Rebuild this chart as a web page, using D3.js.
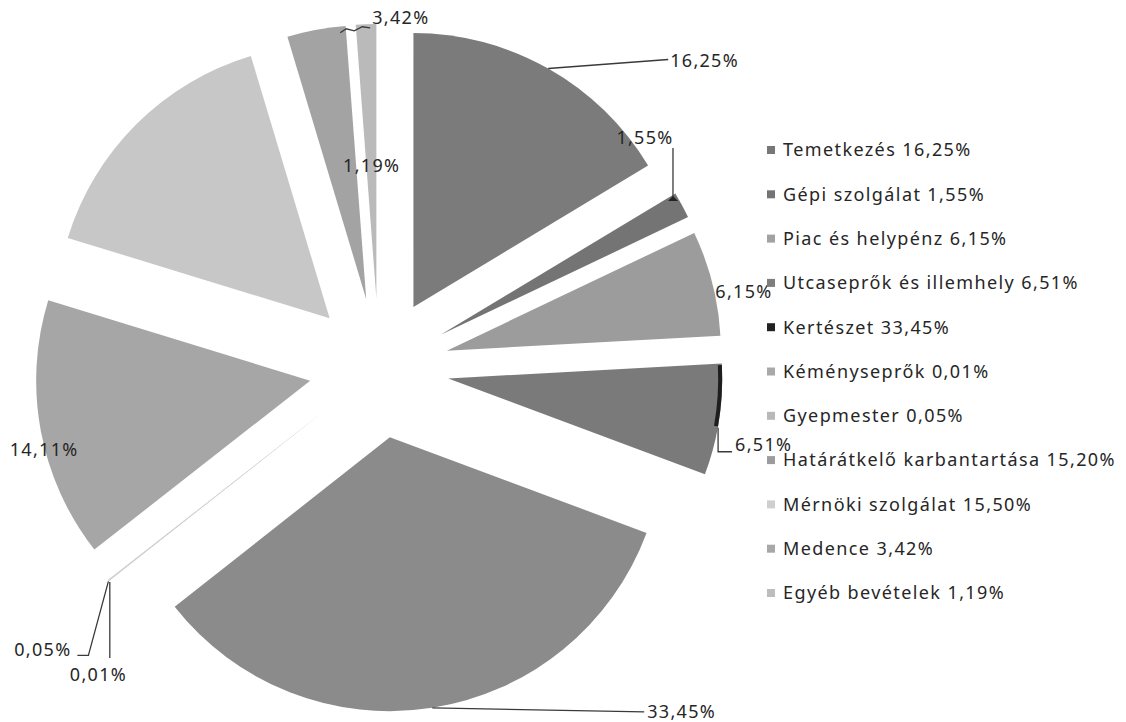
<!DOCTYPE html>
<html lang="hu">
  <head>
    <meta charset="utf-8">
    <title>Bevételek megoszlása</title>
    <script src="https://cdnjs.cloudflare.com/ajax/libs/d3/7.8.5/d3.min.js"></script>
    <style>
      body { margin: 0; background: #fff; }
      text { font-family: "Noto Sans", "DejaVu Sans", sans-serif; fill: #262626; }
      .lbl { font-size: 18px; letter-spacing: 1.3px; }
      .leg { font-size: 18px; letter-spacing: 1.4px; }
    </style>
  </head>
  <body>
    <div class="chart"></div>
    <script>
      // data
      var categories = ["Temetkezés", "Gépi szolgálat", "Piac és helypénz", "Utcaseprők és illemhely",
        "Kertészet", "Kéményseprők", "Gyepmester", "Határátkelő karbantartása",
        "Mérnöki szolgálat", "Medence", "Egyéb bevételek"];
      var values = [16.25, 1.55, 6.15, 6.51, 33.45, 0.01, 0.05, 15.20, 15.50, 3.42, 1.19];
      var labelTexts = ["16,25%", "1,55%", "6,15%", "6,51%", "33,45%", "0,01%", "0,05%", "14,11%", "", "3,42%", "1,19%"];

      // styles
      var sliceColors = ["#7b7b7b", "#747474", "#9c9c9c", "#7a7a7a", "#8b8b8b", "#b0b0b0",
        "#d8d8d8", "#a6a6a6", "#c7c7c7", "#a3a3a3", "#bababa"];
      var legendColors = ["#777777", "#747474", "#a2a2a2", "#7e7e7e", "#222222", "#a9a9a9",
        "#b9b9b9", "#9c9c9c", "#cfcfcf", "#a8a8a8", "#bdbdbd"];

      var svgWidth = 1126;
      var svgHeight = 722;
      var cx = 379, cy = 368;
      var radius = 274;
      var explode = 70;

      // label placement relative to the outer point of each slice
      var labelLayout = [
        { tx: 122, ty: -8, anchor: "start", leader: [[0, 0], [120, -9]] },
        { tx: -37, ty: -67, anchor: "middle", leader: [[-9, -4], [-9, -57]] },
        { tx: 3, ty: 9, anchor: "start", leader: null },
        { tx: 16, ty: 25, anchor: "start", leader: [[-1, 8], [-1, 32], [13, 32]] },
        { tx: 215, ty: 4, anchor: "start", leader: [[0, 0], [212, 4]] },
        { tx: -39, ty: 94, anchor: "start", leader: [[1, 1], [1, 77]] },
        { tx: -37, ty: 69, anchor: "end", leader: [[0, 1], [-20, 75], [-31, 75]] },
        { tx: -31, ty: 19, anchor: "start", leader: null },
        null,
        { tx: 56, ty: -12, anchor: "start", leader: [[24, 3], [30, -1], [38, 1], [46, -3], [54, -2]] },
        { tx: -23, ty: 141, anchor: "start", leader: null }
      ];

      var svg = d3.select(".chart")
        .append("svg")
        .attr("width", svgWidth)
        .attr("height", svgHeight);

      var pie = d3.pie().sort(null).value(d => d);
      var arcs = pie(values);

      var arc = d3.arc().innerRadius(0).outerRadius(radius);

      function dir(a) { return [Math.sin(a), -Math.cos(a)]; }

      var pieGroup = svg.append("g")
        .attr("transform", `translate(${cx}, ${cy})`);

      pieGroup.selectAll("path.slice")
        .data(arcs)
        .enter()
        .append("path")
        .attr("class", "slice")
        .attr("transform", d => {
          var m = (d.startAngle + d.endAngle) / 2;
          var v = dir(m);
          return `translate(${v[0] * explode}, ${v[1] * explode})`;
        })
        .attr("d", d => arc(d.value < 0.1 ? Object.assign({}, d, { endAngle: d.startAngle + 0.004 }) : d))
        .attr("fill", (d, i) => sliceColors[i]);

      // dark edge on the street-sweeping slice
      var u = arcs[3];
      var um = (u.startAngle + u.endAngle) / 2;
      pieGroup.append("path")
        .attr("transform", `translate(${dir(um)[0] * explode}, ${dir(um)[1] * explode})`)
        .attr("d", d3.arc().innerRadius(radius - 4).outerRadius(radius)
          .startAngle(u.startAngle + 0.006)
          .endAngle(u.startAngle + 0.56 * (u.endAngle - u.startAngle))())
        .attr("fill", "#1e1e1e");

      // labels
      var line = d3.line();
      arcs.forEach(function (d, i) {
        var lay = labelLayout[i];
        if (!lay || !labelTexts[i]) return;
        var m = (d.startAngle + d.endAngle) / 2;
        var v = dir(m);
        var ax = v[0] * (radius + explode);
        var ay = v[1] * (radius + explode);
        if (lay.leader) {
          pieGroup.append("path")
            .attr("d", line(lay.leader.map(p => [ax + p[0], ay + p[1]])))
            .attr("fill", "none")
            .attr("stroke", "#3a3a3a")
            .attr("stroke-width", 1.3);
        }
        pieGroup.append("text")
          .attr("class", "lbl")
          .attr("x", ax + lay.tx)
          .attr("y", ay + lay.ty)
          .attr("dy", "0.35em")
          .attr("text-anchor", lay.anchor)
          .text(labelTexts[i]);
      });

      // small arrow tip on the Gépi szolgálat leader
      var g1 = arcs[1];
      var gv = dir((g1.startAngle + g1.endAngle) / 2);
      var gx = gv[0] * (radius + explode) - 9, gy = gv[1] * (radius + explode) - 4;
      pieGroup.append("path")
        .attr("d", `M${gx - 5},${gy}L${gx},${gy - 5}L${gx + 5},${gy}Z`)
        .attr("fill", "#222");

      // legend
      var legendX = 767, legendY = 150, legendStep = 44.3;
      var fmt = v => v.toFixed(2).replace(".", ",") + "%";
      var legend = svg.append("g")
        .attr("transform", `translate(${legendX}, ${legendY})`);

      var rows = legend.selectAll("g")
        .data(categories)
        .enter()
        .append("g")
        .attr("transform", (d, i) => `translate(0, ${i * legendStep})`);

      rows.append("rect")
        .attr("x", 0)
        .attr("y", -4)
        .attr("width", 8)
        .attr("height", 8)
        .attr("fill", (d, i) => legendColors[i]);

      rows.append("text")
        .attr("class", "leg")
        .attr("x", 16)
        .attr("y", 0)
        .attr("dy", "0.35em")
        .text((d, i) => d + " " + fmt(values[i]));
    </script>
  </body>
</html>
